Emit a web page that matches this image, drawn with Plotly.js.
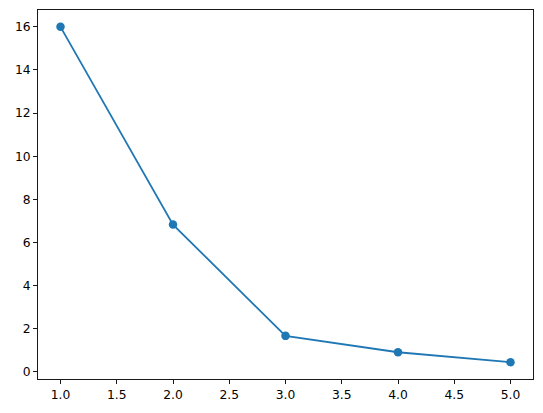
<!DOCTYPE html>
<html><head><meta charset="utf-8">
<script src="https://cdn.plot.ly/plotly-3.0.1.min.js"></script>
<style>html,body{margin:0;padding:0;background:#fff}#chart{width:543px;height:413px}</style>
</head><body><div id="chart"></div>
<script>
const xValues = [1, 2, 3, 4, 5];
const yValues = [16, 6.83, 1.67, 0.91, 0.45];

const trace = {
  x: xValues, y: yValues, type: 'scatter', mode: 'lines+markers',
  line: {color: '#1f77b4', width: 1.8},
  marker: {color: '#1f77b4', size: 8.5}
};
const axisCommon = {
  showline: true, mirror: true, linecolor: '#000', linewidth: 0.9,
  ticks: 'outside', ticklen: 4, tickwidth: 0.9, tickcolor: '#000',
  showgrid: false, zeroline: false,
  tickfont: {family: 'DejaVu Sans', size: 12.3, color: '#000'}
};
const layout = {
  width: 543, height: 413,
  margin: {l: 38, r: 10, t: 10, b: 34},
  paper_bgcolor: '#fff', plot_bgcolor: '#fff',
  showlegend: false,
  xaxis: Object.assign({}, axisCommon, {range: [0.8, 5.2], tick0: 1, dtick: 0.5, tickformat: '.1f'}),
  yaxis: Object.assign({}, axisCommon, {range: [-0.33, 16.78], tick0: 0, dtick: 2})
};
Plotly.newPlot('chart', [trace], layout, {displayModeBar: false, staticPlot: true});
</script></body></html>
